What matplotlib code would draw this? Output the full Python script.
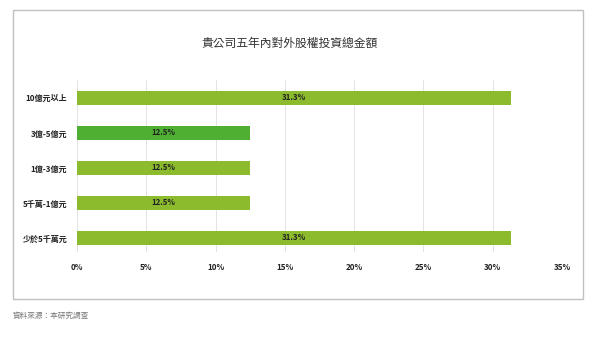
import matplotlib.pyplot as plt
import matplotlib.patches as patches
import numpy as np

plt.rcParams['font.family'] = ['Noto Sans CJK TC', 'DejaVu Sans']

categories = ["10億元以上", "3億-5億元", "1億-3億元", "5千萬-1億元", "少於5千萬元"]
values = [31.3, 12.5, 12.5, 12.5, 31.3]
colors = ["#8CBB2D", "#4FAF32", "#8CBB2D", "#8CBB2D", "#8CBB2D"]
ticks = [0, 5, 10, 15, 20, 25, 30, 35]

fig = plt.figure(figsize=(6, 3.39), dpi=100)
fig.patches.append(patches.Rectangle((13 / 600, 1 - 299 / 339), 570 / 600, 289 / 339,
                                     transform=fig.transFigure, fill=False,
                                     edgecolor="#C0C0C0", linewidth=1))
ax = fig.add_axes([77 / 600, 1 - 252 / 339, 485 / 600, 172 / 339])

y = np.arange(len(categories))
ax.barh(y, values, height=0.4, color=colors, zorder=2)
for i, v in enumerate(values):
    ax.text(v / 2, i, f"{v:.1f}%", ha="center", va="center", fontsize=5.7,
            fontweight="bold", color="#222222", zorder=3)

ax.set_xlim(0, 35)
ax.set_ylim(4.4, -0.51)
ax.set_xticks(ticks)
ax.set_xticklabels([f"{t}%" for t in ticks])
ax.set_yticks(y)
ax.set_yticklabels(categories)
ax.grid(axis="x", color="#E3E3E3", linewidth=0.7, zorder=0)
for s in ax.spines.values():
    s.set_visible(False)
ax.tick_params(axis="both", length=0, labelsize=5.8, colors="#222222")
ax.tick_params(axis="y", pad=7)
ax.tick_params(axis="x", pad=8)
for lbl in ax.get_xticklabels() + ax.get_yticklabels():
    lbl.set_fontweight("bold")

fig.text(290 / 600, 1 - 43 / 339, "貴公司五年內對外股權投資總金額", ha="center", va="center",
         fontsize=8.5, color="#333333")
fig.text(13 / 600, 1 - 316 / 339, "資料來源：本研究調查", ha="left", va="center",
         fontsize=5.5, color="#777777")

fig.savefig("out.png", dpi=100)
